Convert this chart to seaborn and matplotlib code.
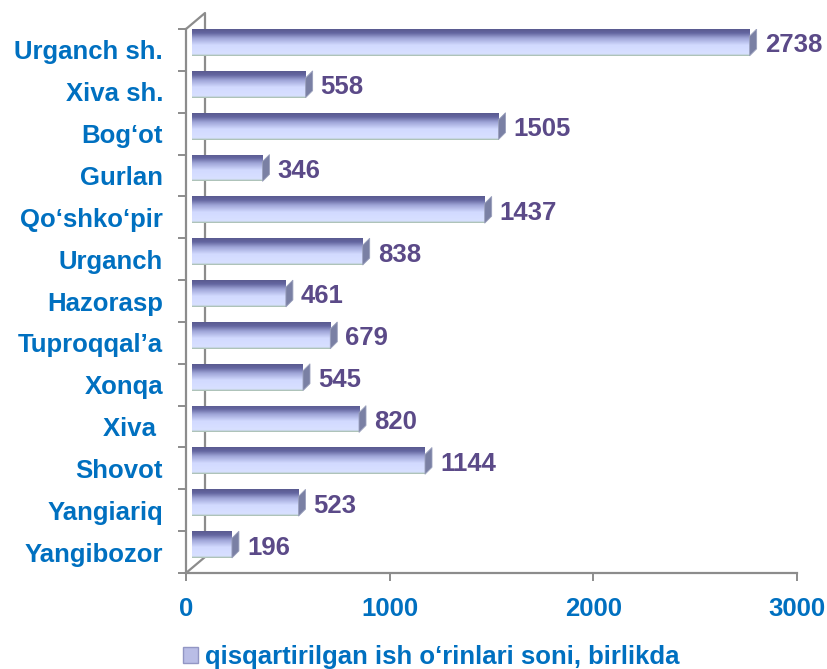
import numpy as np
import matplotlib
matplotlib.use('Agg')
import matplotlib.pyplot as plt
import seaborn as sns
from matplotlib.colors import LinearSegmentedColormap
from matplotlib.patches import Polygon, Patch

# data
districts = ['Urganch sh.', 'Xiva sh.', 'Bog‘ot', 'Gurlan', 'Qo‘shko‘pir', 'Urganch',
             'Hazorasp', 'Tuproqqal’a', 'Xonqa', 'Xiva ', 'Shovot', 'Yangiariq', 'Yangibozor']
jobs_cut = [2738, 558, 1505, 346, 1437, 838, 461, 679, 545, 820, 1144, 523, 196]
x_ticks = [0, 1000, 2000, 3000]
legend_label = 'qisqartirilgan ish o‘rinlari soni, birlikda'

sns.set_theme(style='white')
plt.rcParams['font.family'] = ['Liberation Sans', 'DejaVu Sans']

blue = '#0070C0'
purple = '#5B4A88'
axis_gray = '#8C8C8C'
fs = 18.5

fig = plt.figure(figsize=(8.27, 6.69), dpi=100)
ax = fig.add_axes([186 / 827, 96 / 669, 611 / 827, 544 / 669])

sns.barplot(x=jobs_cut, y=districts, orient='h', color='#B9BDE6', width=0.64, ax=ax)

ax.set_xlim(0, 3000)
ax.set_ylim(12.5, -0.5)

# pixel -> data conversions (for the fake 3D depth)
px_x = 3000 / 611
px_y = 13 / 544

grad_cmap = LinearSegmentedColormap.from_list('bar', [
    (0.0, '#5A5A90'), (0.14, '#6466A0'), (0.34, '#A0A6D8'),
    (0.6, '#D2DAFF'), (0.93, '#D8E0FF'), (1.0, '#A6BEAC')])
grad = np.linspace(0, 1, 64).reshape(-1, 1)

dx, dy = 6 * px_x, 7.5 * px_y
for patch, val in zip(ax.patches, jobs_cut):
    patch.set_x(patch.get_x() + dx)
    patch.set_y(patch.get_y() - dy)
    patch.set_facecolor('none')
    patch.set_edgecolor('none')
    x0, y0 = patch.get_x(), patch.get_y()
    w, h = patch.get_width(), patch.get_height()
    im = ax.imshow(grad, cmap=grad_cmap, aspect='auto', origin='upper',
                   extent=[x0, x0 + w, y0 + h, y0], zorder=2)
    im.set_clip_path(patch)
    # end cap
    x1, t, b = x0 + w, y0, y0 + h
    cap = Polygon([(x1, t + 7 * px_y), (x1 + 7 * px_x, t), (x1 + 7 * px_x, b - 7 * px_y), (x1, b)],
                  closed=True, facecolor='#7A80A4', edgecolor='#9AA0BC', lw=0.6, zorder=3)
    ax.add_patch(cap)
    ax.text(x1 + 15 * px_x, y0 + h / 2 + 3 * px_y, f'{val}', color=purple, fontsize=fs,
            fontweight='bold', va='center', ha='left', zorder=4)

ax.set_xlim(0, 3000)
ax.set_ylim(12.5, -0.5)

# back wall of the 3D frame
bx, by = 19 * px_x, 16 * px_y
ax.plot([0, bx, bx, 0], [-0.5, -0.5 - by, 12.5 - by, 12.5], color=axis_gray, lw=1.6,
        clip_on=False, zorder=1)

for side in ['top', 'right']:
    ax.spines[side].set_visible(False)
for side in ['left', 'bottom']:
    ax.spines[side].set_color(axis_gray)
    ax.spines[side].set_linewidth(1.6)

ax.set_xticks(x_ticks)
ax.set_xticklabels([str(v) for v in x_ticks])
ax.tick_params(axis='x', bottom=True, direction='out', length=6, width=1.4, color=axis_gray,
               pad=11, labelsize=fs, labelcolor=blue)
ax.set_yticks(np.arange(-0.5, 13), minor=True)
ax.tick_params(axis='y', which='minor', left=True, direction='out', length=6, width=1.4, color=axis_gray)
ax.tick_params(axis='y', which='major', left=False, length=0, pad=16.5, labelsize=fs, labelcolor=blue)
for lab in ax.get_xticklabels() + ax.get_yticklabels():
    lab.set_fontweight('bold')
ax.set_xlabel('')
ax.set_ylabel('')

fig.legend(handles=[Patch(facecolor='#B9BDE6', edgecolor='#9296C4')], labels=[legend_label],
           loc='center', bbox_to_anchor=(0.521, 0.018), frameon=False, handlelength=0.6,
           handleheight=0.6, handletextpad=0.25, prop={'size': fs, 'weight': 'bold'},
           labelcolor=blue)

fig.savefig('out.png', dpi=100, facecolor='white')
